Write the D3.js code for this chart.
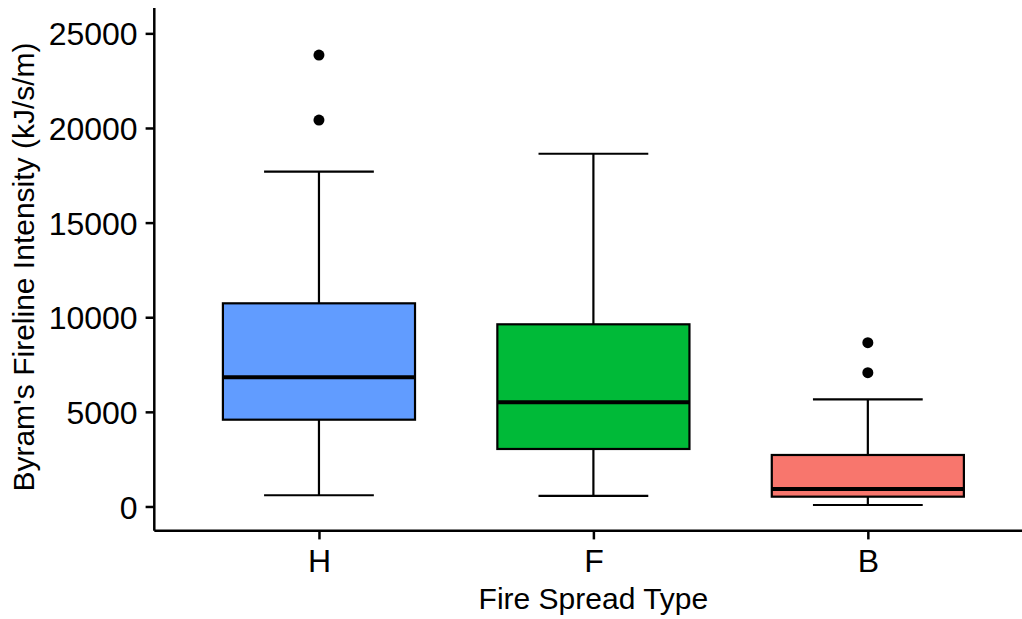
<!DOCTYPE html>
<html>
<head>
<meta charset="utf-8">
<script src="https://cdn.jsdelivr.net/npm/d3@7"></script>
<style>
  body { margin: 0; background: #fff; }
  svg { display: block; font-family: "Liberation Sans", Arial, sans-serif; }
</style>
</head>
<body>
<svg id="vis"></svg>
<script>
const categories = ['H', 'F', 'B'];
const lowerWhisker = [592, 555, 79];
const q1 = [4586, 3038, 518];
const median = [6826, 5505, 925];
const q3 = [10735, 9626, 2721];
const upperWhisker = [17689, 18639, 5664];
const outliers = [[23853, 20419], [], [8654, 7069]];
const fills = ['#619CFF', '#00BA38', '#F8766D'];
const yTicks = [0, 5000, 10000, 15000, 20000, 25000];

const width = 1022, height = 619;
const panelLeft = 154.3, panelRight = 1032.5, panelTop = 8, panelBottom = 530.7;

var svg = d3.select('#vis').attr('width', width).attr('height', height);

var x = d3.scalePoint().domain(categories).range([panelLeft, panelRight]).padding(0.6);
var y = d3.scaleLinear().domain([-1280, 26340]).range([panelBottom, panelTop]);
var step = x.step();

var boxes = svg.append('g').attr('id', 'boxes');
categories.forEach(function(c, i) {
    var cx = x(c);
    var g = boxes.append('g');
    // whisker lines
    g.append('line').attr('x1', cx).attr('x2', cx)
        .attr('y1', y(q3[i])).attr('y2', y(upperWhisker[i]))
        .attr('stroke', 'black').attr('stroke-width', 2.2);
    g.append('line').attr('x1', cx).attr('x2', cx)
        .attr('y1', y(q1[i])).attr('y2', y(lowerWhisker[i]))
        .attr('stroke', 'black').attr('stroke-width', 2.2);
    // caps
    [upperWhisker[i], lowerWhisker[i]].forEach(function(v) {
        g.append('line').attr('x1', cx - step * 0.2).attr('x2', cx + step * 0.2)
            .attr('y1', y(v)).attr('y2', y(v))
            .attr('stroke', 'black').attr('stroke-width', 2.2);
    });
    // box
    g.append('rect').attr('x', cx - step * 0.35).attr('width', step * 0.7)
        .attr('y', y(q3[i])).attr('height', y(q1[i]) - y(q3[i]))
        .attr('fill', fills[i]).attr('stroke', 'black').attr('stroke-width', 2.2);
    g.append('line').attr('x1', cx - step * 0.35).attr('x2', cx + step * 0.35)
        .attr('y1', y(median[i])).attr('y2', y(median[i]))
        .attr('stroke', 'black').attr('stroke-width', 4);
    g.selectAll('circle').data(outliers[i]).enter().append('circle')
        .attr('cx', cx).attr('cy', function(d) { return y(d); })
        .attr('r', 5.5).attr('fill', 'black');
});

var yAxis = svg.append('g').attr('transform', 'translate(' + panelLeft + ',0)')
    .call(d3.axisLeft(y).tickValues(yTicks).tickFormat(d3.format('d'))
        .tickSize(8.7).tickPadding(8).tickSizeOuter(0));
var xAxis = svg.append('g').attr('transform', 'translate(0,' + panelBottom + ')')
    .call(d3.axisBottom(x).tickSize(8.7).tickPadding(9.5).tickSizeOuter(0));

[yAxis, xAxis].forEach(function(a) {
    a.select('.domain').attr('stroke', 'black').attr('stroke-width', 2.5);
    a.selectAll('.tick line').attr('stroke', 'black').attr('stroke-width', 2.5);
    a.selectAll('.tick text').attr('fill', 'black').style('font-size', '32px')
        .style('font-family', '"Liberation Sans", Arial, sans-serif');
});
yAxis.selectAll('.tick text').attr('dy', '0.36em');
yAxis.select('.domain').attr('d', 'M0,' + panelTop + 'V' + panelBottom);
xAxis.select('.domain').attr('d', 'M' + panelLeft + ',0H' + panelRight);

svg.append('text').attr('x', (panelLeft + panelRight) / 2).attr('y', 609)
    .attr('text-anchor', 'middle').style('font-size', '30px').attr('fill', 'black')
    .text('Fire Spread Type');

svg.append('text').attr('transform', 'translate(34,267) rotate(-90)')
    .attr('text-anchor', 'middle').style('font-size', '30px').attr('fill', 'black')
    .text("Byram's Fireline Intensity (kJ/s/m)");
</script>
</body>
</html>
